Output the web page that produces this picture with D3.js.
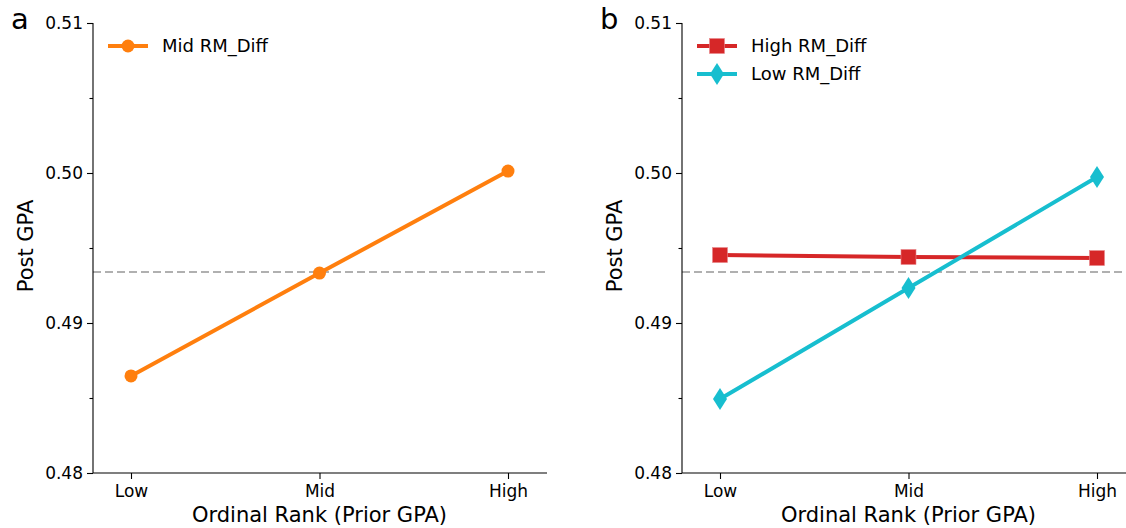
<!DOCTYPE html>
<meta charset="utf-8">
<style>
body { margin: 0; background: white; }
svg { font-family: "DejaVu Sans", sans-serif; }
.axis path, .axis line { stroke: #000; stroke-width: 1.1px; }
.label { font-size: 21px; text-anchor: middle; }
.panel { font-size: 29px; }
.legend text { font-size: 18px; }
.ref { stroke: #b0b0b0; stroke-width: 1.8px; stroke-dasharray: 8 4; }
</style>
<svg></svg>
<script src="https://cdn.jsdelivr.net/npm/d3@7"></script>
<script>

var width = 1126;
var height = 528;

var ranks = ['Low', 'Mid', 'High'];
var midDiff = [0.48647, 0.49333, 0.50013];
var highDiff = [0.49453, 0.49440, 0.49433];
var lowDiff = [0.48493, 0.49233, 0.49973];
var baseline = 0.49340;
var yTicks = [0.48, 0.49, 0.50, 0.51];
var yMinorTicks = [0.485, 0.495, 0.505];

var svg = d3.select('svg')
  .attr('width', width)
  .attr('height', height);

var y = d3.scaleLinear().domain([0.48, 0.51]).range([473, 23]);

var panels = [
  { letter: 'a', left: 93, series: [
    { name: 'Mid RM_Diff', values: midDiff, color: '#ff7f0e', marker: 'circle' }
  ]},
  { letter: 'b', left: 682, series: [
    { name: 'High RM_Diff', values: highDiff, color: '#d62728', marker: 'square' },
    { name: 'Low RM_Diff', values: lowDiff, color: '#17becf', marker: 'diamond' }
  ]}
];

function drawMarker(g, type, color) {
  if (type === 'circle') {
    g.append('circle').attr('r', 6.5).attr('fill', color);
  } else if (type === 'square') {
    g.append('rect').attr('x', -7.5).attr('y', -7.5).attr('width', 15).attr('height', 15)
      .attr('fill', color).attr('stroke', '#e8888a').attr('stroke-width', 0.6);
  } else {
    g.append('path').attr('d', 'M0,-11L7,0L0,11L-7,0Z').attr('fill', color);
  }
}

function tickFont(a) {
  a.selectAll('text').style('font-size', '17px').style('font-family', '"DejaVu Sans", sans-serif').attr('fill', '#000');
}

panels.forEach(function (p) {
  var x = d3.scalePoint().domain(ranks).range([p.left + 38, p.left + 415]);
  var g = svg.append('g');

  g.append('line')
    .attr('class', 'ref')
    .attr('x1', p.left).attr('x2', p.left + 454)
    .attr('y1', y(baseline)).attr('y2', y(baseline));

  g.append('g')
    .attr('class', 'axis')
    .attr('transform', 'translate(' + p.left + ',0)')
    .call(d3.axisLeft(y).tickValues(yTicks).tickFormat(d3.format('.2f')).tickSize(6).tickPadding(4).tickSizeOuter(0))
    .call(function (a) { a.select('.domain').attr('d', 'M0,473V23'); })
    .call(tickFont);

  g.append('g')
    .attr('class', 'axis')
    .attr('transform', 'translate(' + p.left + ',0)')
    .call(d3.axisLeft(y).tickValues(yMinorTicks).tickFormat('').tickSize(3.5))
    .call(function (a) { a.select('.domain').remove(); });

  g.append('g')
    .attr('class', 'axis')
    .attr('transform', 'translate(0,473)')
    .call(d3.axisBottom(x).tickSize(6).tickPadding(6))
    .call(function (a) { a.select('.domain').attr('d', 'M' + p.left + ',0H' + (p.left + 454)); })
    .call(tickFont);

  g.append('text')
    .attr('class', 'label')
    .attr('transform', 'translate(' + (p.left - 60) + ',246) rotate(-90)')
    .text('Post GPA');

  g.append('text')
    .attr('class', 'label')
    .attr('x', x('Mid')).attr('y', 522)
    .text('Ordinal Rank (Prior GPA)');

  g.append('text')
    .attr('class', 'panel')
    .attr('x', p.left - 82).attr('y', 29)
    .text(p.letter);

  var line = d3.line()
    .x(function (d, i) { return x(ranks[i]); })
    .y(function (d) { return y(d); });

  p.series.forEach(function (s, k) {
    g.append('path')
      .attr('d', line(s.values))
      .attr('fill', 'none')
      .attr('stroke', s.color)
      .attr('stroke-width', 4);

    s.values.forEach(function (v, i) {
      drawMarker(g.append('g').attr('transform', 'translate(' + x(ranks[i]) + ',' + y(v) + ')'), s.marker, s.color);
    });

    var lg = g.append('g')
      .attr('class', 'legend')
      .attr('transform', 'translate(' + (p.left + 15) + ',' + (46 + k * 28) + ')');
    lg.append('line').attr('x1', 0).attr('x2', 40).attr('stroke', s.color).attr('stroke-width', 4);
    drawMarker(lg.append('g').attr('transform', 'translate(20,0)'), s.marker, s.color);
    lg.append('text').attr('x', 54).attr('dy', '0.35em').text(s.name);
  });
});

</script>
